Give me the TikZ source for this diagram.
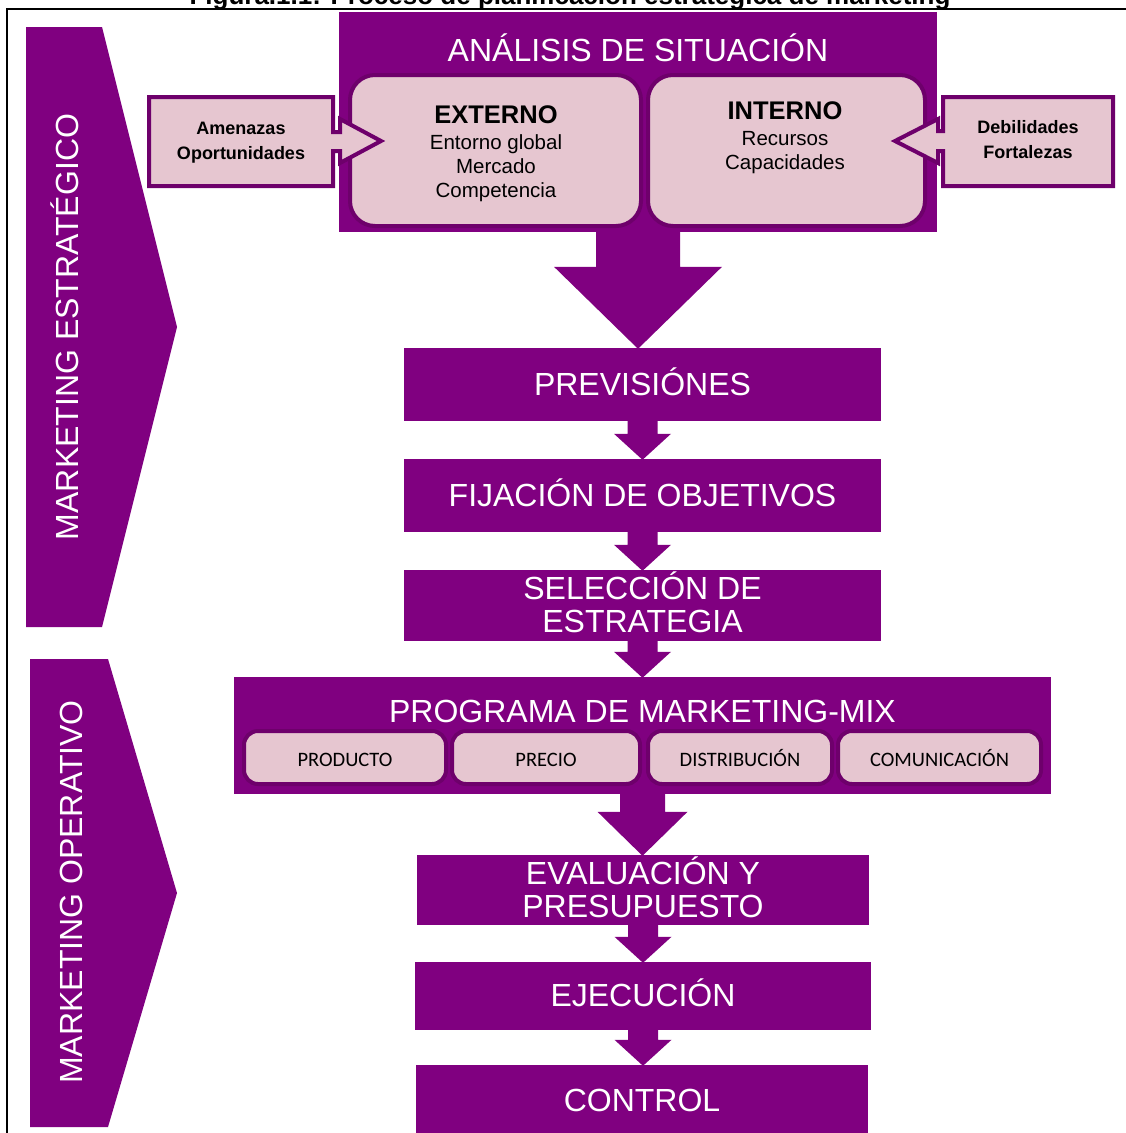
\documentclass[tikz,border=0pt]{standalone}
\usepackage{fontspec}
\setmainfont{Liberation Sans}
\newfontfamily\carlito{Carlito}
\usetikzlibrary{calc}
\definecolor{mpurple}{HTML}{800080}
\definecolor{mpink}{HTML}{E6C6D0}
\definecolor{mdark}{HTML}{6E006B}
\tikzset{
  purplebox/.style={fill=mpurple, draw=none, inner sep=0pt},
  bigtext/.style={text=white, inner sep=0pt, anchor=base, font=\fontsize{32}{34}\selectfont},
  pinkbox/.style={fill=mpink, draw=mdark, line width=4pt, rounded corners=25pt, inner sep=0pt},
  mixbox/.style={fill=mpink, draw=mdark, line width=4pt, rounded corners=14pt, inner sep=0pt,
     font=\carlito\fontsize{20.5}{22}\selectfont, minimum height=53pt, text height=17pt, text depth=0pt},
  callout/.style={fill=mpink, draw=mdark, line width=4pt, line join=miter},
  calltext/.style={inner sep=0pt, anchor=base, font=\bfseries\fontsize{18}{20}\selectfont},
  headtext/.style={inner sep=0pt, anchor=base, font=\bfseries\fontsize{25.5}{28}\selectfont},
  subtext/.style={inner sep=0pt, anchor=base, font=\fontsize{20.5}{22}\selectfont},
  sidetext/.style={text=white, rotate=90, inner sep=0pt, text height=23pt, text depth=0pt,
     font=\fontsize{32}{34}\selectfont},
  flowarrow/.style={fill=mpurple},
}
% #1 from node, #2 to node, #3 shaft half width, #4 head half width, #5 head length
\newcommand\flowdown[5]{%
  \fill[flowarrow] ($(#1.south)+(-#3,-2)$) -- ($(#1.south)+(#3,-2)$)
    -- ($(#2.north -| #1.south)+(#3,-#5)$) -- ($(#2.north -| #1.south)+(#4,-#5)$)
    -- ($(#2.north -| #1.south)+(0,1)$) -- ($(#2.north -| #1.south)+(-#4,-#5)$)
    -- ($(#2.north -| #1.south)+(-#3,-#5)$) -- cycle;}
\begin{document}
\begin{tikzpicture}[x=1pt,y=-1pt]
\useasboundingbox (0,0) rectangle (1126,1133);
\clip (0,0) rectangle (1126,1133);
% title (cut by the top edge, as in the reference) and frame
\node[inner sep=0pt, anchor=base, font=\bfseries\fontsize{26}{28}\selectfont] (title) at (570,4)
  {Figura.1.1: Proceso de planificación estratégica de marketing};
\draw[line width=2.5pt] (7,1140) -- (7,9) -- (1126,9);
% side chevrons
\fill[mpurple] (26,27) -- (102,27) -- (177,327) -- (102,627) -- (26,627) -- cycle;
\fill[mpurple] (30,659) -- (108,659) -- (177,893) -- (108,1127) -- (30,1127) -- cycle;
\node[sidetext] (est) at (67,327) {MARKETING ESTRATÉGICO};
\node[sidetext] (ope) at (71,892) {MARKETING OPERATIVO};
% situation analysis
\node[purplebox, minimum width=598pt, minimum height=220pt] (ana) at (638,122) {};
\node[bigtext] (anat) at (638,61.5) {ANÁLISIS DE SITUACIÓN};
\node[pinkbox, minimum width=291pt, minimum height=151pt] (ext) at (495.5,150.5) {};
\node[pinkbox, minimum width=277pt, minimum height=151pt] (int) at (786.5,150.5) {};
\node[headtext] (ext1) at (496,123) {EXTERNO};
\node[subtext] (ext2) at (496,149) {Entorno global};
\node[subtext] (ext3) at (496,173) {Mercado};
\node[subtext] (ext4) at (496,197) {Competencia};
\node[headtext] (int1) at (785,119) {INTERNO};
\node[subtext] (int2) at (785,145) {Recursos};
\node[subtext] (int3) at (785,169) {Capacidades};
% callouts
\draw[callout] (149,97) -- (333,97) -- (333,132) -- (340,132) -- (340,119) -- (381,141)
  -- (340,163) -- (340,151) -- (333,151) -- (333,186) -- (149,186) -- cycle;
\node[calltext] (am) at (241,134.5) {Amenazas};
\node[calltext] (op) at (241,159.5) {Oportunidades};
\draw[callout] (1113,97) -- (943,97) -- (943,131) -- (938,131) -- (938,119) -- (895,141)
  -- (938,163) -- (938,151) -- (943,151) -- (943,186) -- (1113,186) -- cycle;
\node[calltext] (deb) at (1028,133.5) {Debilidades};
\node[calltext] (fort) at (1028,158.5) {Fortalezas};
% flow boxes
\node[purplebox, minimum width=477pt, minimum height=73pt] (prev) at (642.5,384.5) {};
\node[bigtext] (prevt) at (642.5,395.5) {PREVISIÓNES};
\node[purplebox, minimum width=477pt, minimum height=73pt] (fij) at (642.5,495.5) {};
\node[bigtext] (fijt) at (642.5,506.5) {FIJACIÓN DE OBJETIVOS};
\node[purplebox, minimum width=477pt, minimum height=71pt] (sel) at (642.5,605.5) {};
\node[bigtext] (selt1) at (642.5,599.5) {SELECCIÓN DE};
\node[bigtext] (selt2) at (642.5,632.5) {ESTRATEGIA};
\node[purplebox, minimum width=817pt, minimum height=117pt] (prog) at (642.5,735.5) {};
\node[bigtext] (progt) at (642.5,722.5) {PROGRAMA DE MARKETING-MIX};
\node[mixbox, minimum width=202pt] (prod) at (345,757.5) {PRODUCTO};
\node[mixbox, minimum width=188pt] (prec) at (546,757.5) {PRECIO};
\node[mixbox, minimum width=184pt] (dist) at (740,757.5) {DISTRIBUCIÓN};
\node[mixbox, minimum width=203pt] (com) at (939.5,757.5) {COMUNICACIÓN};
\node[purplebox, minimum width=452pt, minimum height=70pt] (eval) at (643,890) {};
\node[bigtext] (evalt1) at (643,884.5) {EVALUACIÓN Y};
\node[bigtext] (evalt2) at (643,917.5) {PRESUPUESTO};
\node[purplebox, minimum width=456pt, minimum height=68pt] (eje) at (643,996) {};
\node[bigtext] (ejet) at (643,1006.5) {EJECUCIÓN};
\node[purplebox, minimum width=452pt, minimum height=70pt] (con) at (642,1100) {};
\node[bigtext] (cont) at (642,1111.5) {CONTROL};
% block arrows
\flowdown{ana}{prev}{42}{84}{81}
\flowdown{prev}{fij}{15}{28.5}{25}
\flowdown{fij}{sel}{15}{28.5}{25}
\flowdown{sel}{prog}{15}{28.5}{25}
\flowdown{prog}{eval}{22.5}{45}{43}
\flowdown{eval}{eje}{15}{28.5}{25}
\flowdown{eje}{con}{15}{28.5}{25}
\end{tikzpicture}
\end{document}
